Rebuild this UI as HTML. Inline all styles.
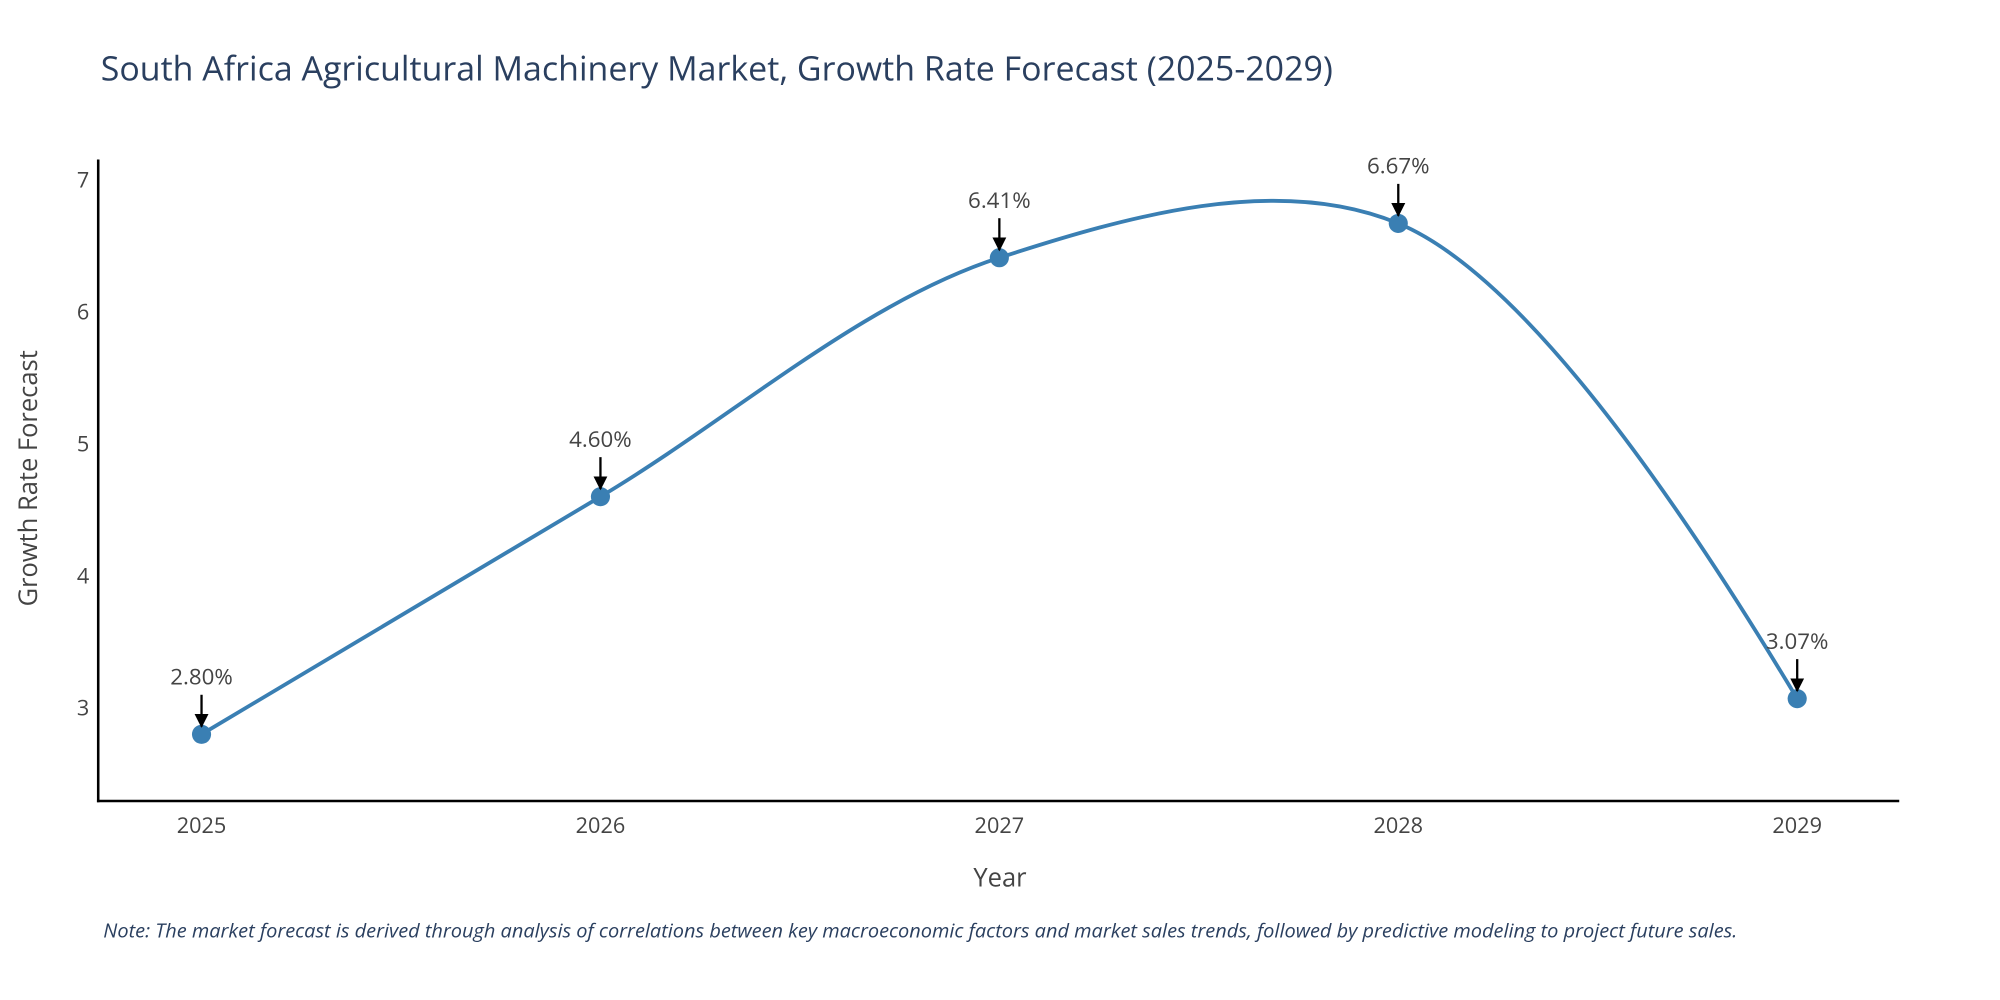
<!DOCTYPE html>
<html><head><meta charset="utf-8"><style>
html,body{margin:0;padding:0;background:#fff;}
svg{display:block;font-family:"Open Sans","Liberation Sans",sans-serif;}
</style></head><body>
<svg id="chart" width="2000" height="1000" viewBox="0 0 1568 784" xmlns="http://www.w3.org/2000/svg">
<rect width="1568" height="784" fill="#fff"/>
<text x="79" y="63" font-size="26.5" fill="#2a3f5f" textLength="966" lengthAdjust="spacingAndGlyphs">South Africa Agricultural Machinery Market, Growth Rate Forecast (2025-2029)</text>
<g id="yticks"></g>
<g id="xticks"></g>
<line x1="77" y1="125" x2="77" y2="629" stroke="#000" stroke-width="2"/>
<line x1="76" y1="628" x2="1489" y2="628" stroke="#000" stroke-width="2"/>
<text transform="translate(29,375) rotate(-90)" text-anchor="middle" font-size="20" fill="#444">Growth Rate Forecast</text>
<text x="784" y="695" text-anchor="middle" font-size="20" fill="#444">Year</text>
<text x="81" y="735" font-size="15" font-style="italic" fill="#2a3f5f" textLength="1281" lengthAdjust="spacingAndGlyphs">Note: The market forecast is derived through analysis of correlations between key macroeconomic factors and market sales trends, followed by predictive modeling to project future sales.</text>
<path id="line" fill="none" stroke="#3a7fb3" stroke-width="3"/>
<g id="marks"></g>
<defs><marker id="ah" markerWidth="12" markerHeight="12" refX="10" refY="6" orient="auto" markerUnits="userSpaceOnUse"><path d="M0,0.5 L11,6 L0,11.5 z" fill="#000"/></marker></defs>
</svg>
<script>
const years = [2025, 2026, 2027, 2028, 2029];
const rates = [2.80, 4.60, 6.41, 6.67, 3.07];
const labels = ["2.80%", "4.60%", "6.41%", "6.67%", "3.07%"];
const yTicks = [3, 4, 5, 6, 7];

const NS = "http://www.w3.org/2000/svg";
function xs(v){ return 158 + (v - 2025) * 312.75; }
function ys(v){ return 555 - (v - 3) * 103.5; }
function mk(tag, attrs, parent){ const e=document.createElementNS(NS,tag); for(const k in attrs) e.setAttribute(k,attrs[k]); parent.appendChild(e); return e; }

const yt = document.getElementById('yticks');
yTicks.forEach(t=>{
  const e = mk('text',{x:70,y:ys(t)+6,'text-anchor':'end','font-size':17,fill:'#444'},yt);
  
  
  e.textContent = t;
});
const xt = document.getElementById('xticks');
years.forEach(y=>{
  const e = mk('text',{x:xs(y),y:653,'text-anchor':'middle','font-size':17,fill:'#444'},xt);
  
  
  e.textContent = y;
});

const pts = years.map((y,i)=>[xs(y), ys(rates[i])]);
function tangent(p0,p1,p2,s){
  const d1x=p0[0]-p1[0], d1y=p0[1]-p1[1], d2x=p2[0]-p1[0], d2y=p2[1]-p1[1];
  const d1a=Math.pow(d1x*d1x+d1y*d1y,0.25), d2a=Math.pow(d2x*d2x+d2y*d2y,0.25);
  const nx=(d2a*d2a*d1x-d1a*d1a*d2x)*s, ny=(d2a*d2a*d1y-d1a*d1a*d2y)*s;
  const den1=3*d2a*(d1a+d2a), den2=3*d1a*(d1a+d2a);
  return [[p1[0]+nx/den1,p1[1]+ny/den1],[p1[0]-nx/den2,p1[1]-ny/den2]];
}
const tg=[];
for(let i=1;i<pts.length-1;i++) tg.push(tangent(pts[i-1],pts[i],pts[i+1],1.0));
let d = `M${pts[0]} Q${tg[0][0]} ${pts[1]}`;
for(let i=2;i<pts.length-1;i++) d += ` C${tg[i-2][1]} ${tg[i-1][0]} ${pts[i]}`;
d += ` Q${tg[tg.length-1][1]} ${pts[pts.length-1]}`;
document.getElementById('line').setAttribute('d', d);

const g = document.getElementById('marks');
pts.forEach((p,i)=>{
  const c = mk('circle',{cx:p[0],cy:p[1],r:7.5,fill:'#3a7fb3'},g);
  
  
  const a = mk('line',{x1:p[0],y1:p[1]-31,x2:p[0],y2:p[1]-6,stroke:'#000','stroke-width':1.8,'marker-end':'url(#ah)'},g);
  
  
  const t = mk('text',{x:p[0],y:p[1]-39,'text-anchor':'middle','font-size':17.5,fill:'#444'},g);
  
  
  t.textContent = labels[i];
});
</script>
</body></html>
